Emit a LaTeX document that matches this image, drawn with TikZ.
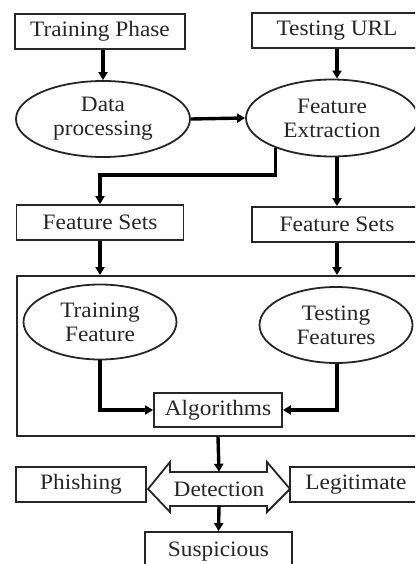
\documentclass[tikz,border=0pt]{standalone}
\usepackage{fontspec}
\setmainfont[FakeStretch=1.06]{Liberation Serif}
\usetikzlibrary{arrows.meta,shapes.geometric}
\definecolor{ink}{HTML}{262626}
\tikzset{
  box/.style={draw=ink, line width=1.8pt, rectangle, inner sep=0pt, text=ink,
    font=\fontsize{22}{24}\selectfont},
  oval/.style={draw=ink, line width=1.8pt, ellipse, inner sep=0pt, text=ink, align=center,
    font=\fontsize{22}{24}\selectfont},
  flow/.style={draw=black, line width=3.4pt, -{Triangle[length=8pt,width=9pt]}},
}
\begin{document}
\begin{tikzpicture}[x=1pt,y=-1pt]
\useasboundingbox (0,0) rectangle (415,564);
\clip (0,0) rectangle (415,564);
% top row
\node[box, minimum width=170pt, minimum height=35pt] (tp) at (100,31.5) {Training Phase};
\node[box, minimum width=170pt, minimum height=35pt] (turl) at (337,30.5) {Testing URL};
% ellipses
\node[oval, minimum width=174pt, minimum height=76pt] (dp) at (103,119) {Data\\processing};
\node[oval, minimum width=172pt, minimum height=77pt] (fe) at (332,118) {Feature\\Extraction};
% feature sets
\node[box, minimum width=167pt, minimum height=35pt] (fs1) at (100,222.5) {Feature Sets};
\node[box, minimum width=170pt, minimum height=35pt] (fs2) at (337,224.5) {Feature Sets};
% panel
\node[draw=ink, line width=1.8pt, rectangle, minimum width=410pt, minimum height=160pt, inner sep=0pt, anchor=north west] (panel) at (16,275) {};
\node[oval, minimum width=153pt, minimum height=75pt] (tf) at (100,322) {Training\\Feature};
\node[oval, minimum width=153pt, minimum height=76pt] (tsf) at (336,325) {Testing\\Features};
\node[box, minimum width=128pt, minimum height=34pt] (alg) at (218,410) {Algorithms};
% detection double arrow
\coordinate (det) at (219,489);
\draw[draw=ink, line width=1.8pt, fill=white]
  (148,489) -- (170,462) -- (170,472) -- (267,472) -- (267,462) -- (290,489)
  -- (267,512) -- (267,506) -- (170,506) -- (170,512) -- cycle;
\node[text=ink, font=\fontsize{22}{24}\selectfont, inner sep=0pt, minimum width=97pt, minimum height=34pt] (detn) at (det) {Detection};
\node[box, minimum width=130pt, minimum height=35pt] (ph) at (81,484.5) {Phishing};
\node[box, minimum width=132pt, minimum height=35pt] (leg) at (356,484.5) {Legitimate};
\node[box, minimum width=147pt, minimum height=40pt] (sus) at (218.5,552) {Suspicious};
% connectors
\draw[flow] (tp.south -| dp.north) -- (dp.north);
\draw[flow] (turl.south) -- (turl.south |- fe.north);
\draw[flow] (dp.east) -- (fe.west);
\coordinate (elb) at (100,175);
\draw[flow] (fe.208) |- (elb) -- (fs1.north);
\draw[flow] (fe.south -| fs2.north) -- (fs2.north);
\draw[flow] (fs1.south) -- (fs1.south |- panel.north);
\draw[flow] (fs2.south) -- (fs2.south |- panel.north);
\draw[flow] (tf.south) |- (alg.west);
\draw[flow] (tsf.south -| fs2.south) |- (alg.east);
\draw[flow] (alg.south |- panel.south) -- (detn.north);
\draw[flow] (detn.south) -- (sus.north);
\end{tikzpicture}
\end{document}
